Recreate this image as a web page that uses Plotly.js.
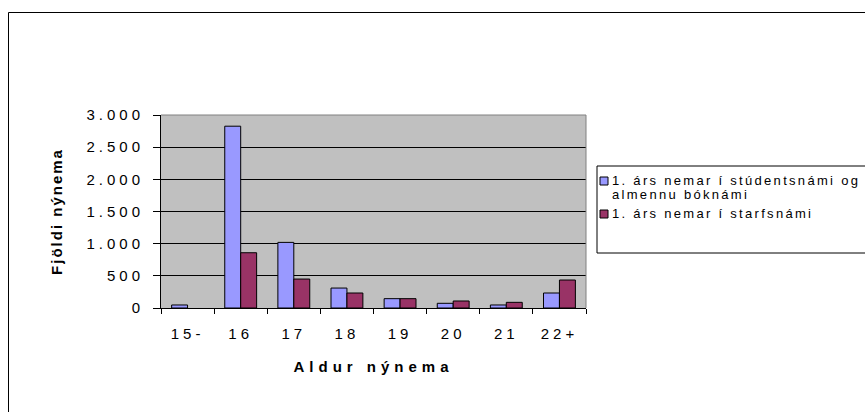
<!DOCTYPE html>
<html>
<head>
<meta charset="utf-8">
<script src="https://cdn.plot.ly/plotly-3.0.1.min.js"></script>
<style>
  html, body { margin: 0; padding: 0; background: #fff; }
  #chart { width: 865px; height: 412px; }
  .xtick text, .ytick text { letter-spacing: 4px; }
  .g-xtitle text { letter-spacing: 5px; }
  .g-ytitle text { letter-spacing: 2px; }
  .annotation-text { letter-spacing: 2.3px; }
</style>
</head>
<body>
<div id="chart"></div>
<script>
const categories = ["15-", "16", "17", "18", "19", "20", "21", "22+"];
const seriesNames = ["1. árs nemar í stúdentsnámi og almennu bóknámi", "1. árs nemar í starfsnámi"];
const legendLines = ["1. árs nemar í stúdentsnámi og", "almennu bóknámi", "1. árs nemar í starfsnámi"];
const studentValues = [47, 2826, 1020, 310, 145, 73, 47, 233];
const vocationalValues = [null, 859, 450, 233, 145, 109, 88, 435];
const yTickValues = [0, 500, 1000, 1500, 2000, 2500, 3000];
const xTitle = "Aldur nýnema";
const yTitle = "Fjöldi nýnema";

const FONT = "'Liberation Sans', Arial, sans-serif";

const traces = [
  {
    type: "bar", name: seriesNames[0], x: categories, y: studentValues,
    marker: { color: "#9999FF", line: { color: "#000000", width: 1 } },
    hoverinfo: "x+y"
  },
  {
    type: "bar", name: seriesNames[1], x: categories, y: vocationalValues,
    marker: { color: "#993366", line: { color: "#000000", width: 1 } },
    hoverinfo: "x+y"
  }
];

// plot area in pixels: x 161..586, y 115..308
const L = 161, R = 586, T = 115, B = 308;
const px = v => (v - L) / (R - L);
const py = v => (B - v) / (B - T);

const layout = {
  width: 865, height: 412,
  margin: { l: L, r: 865 - R, t: T, b: 412 - B, pad: 0 },
  paper_bgcolor: "#FFFFFF",
  plot_bgcolor: "#C0C0C0",
  separators: ",.",
  showlegend: false,
  barmode: "group",
  bargap: 0.4,
  bargroupgap: 0,
  font: { family: FONT, color: "#000000", size: 15 },
  xaxis: {
    type: "category",
    tickson: "boundaries",
    ticks: "outside", ticklen: 5, tickcolor: "#000000", tickwidth: 1,
    ticklabelstandoff: 12,
    showline: true, linecolor: "#000000", linewidth: 1,
    showgrid: false, zeroline: false,
    tickfont: { family: FONT, size: 15, color: "#000000" },
    title: { text: xTitle, font: { family: FONT, size: 15, color: "#000000", weight: "bold" }, standoff: 20 },
    automargin: false
  },
  yaxis: {
    range: [0, 3000],
    tickvals: yTickValues,
    tickformat: ",d",
    ticks: "outside", ticklen: 7, tickcolor: "#000000", tickwidth: 1,
    ticklabelstandoff: 6,
    showline: true, linecolor: "#000000", linewidth: 1,
    showgrid: true, gridcolor: "#000000", gridwidth: 1,
    zeroline: false,
    tickfont: { family: FONT, size: 15, color: "#000000" },
    title: { text: yTitle, font: { family: FONT, size: 15, color: "#000000", weight: "bold" }, standoff: 20 },
    automargin: false
  },
  shapes: [
    { type: "rect", xref: "paper", yref: "paper", x0: px(8.5), x1: px(1000), y0: py(600), y1: py(12.5),
      line: { color: "#000000", width: 1 }, fillcolor: "rgba(0,0,0,0)", layer: "above" },
    { type: "line", xref: "paper", yref: "paper", x0: 0, x1: 1, y0: 1, y1: 1,
      line: { color: "#808080", width: 1 }, layer: "above" },
    { type: "line", xref: "paper", yref: "paper", x0: 1, x1: 1, y0: 0, y1: 1,
      line: { color: "#808080", width: 1 }, layer: "above" },
    { type: "rect", xref: "paper", yref: "paper", x0: px(597), x1: px(1000), y0: py(253), y1: py(166),
      line: { color: "#000000", width: 1 }, fillcolor: "#FFFFFF", layer: "above" },
    { type: "rect", xref: "paper", yref: "paper", x0: px(600), x1: px(608), y0: py(185), y1: py(177),
      line: { color: "#000000", width: 1 }, fillcolor: "#9999FF", layer: "above" },
    { type: "rect", xref: "paper", yref: "paper", x0: px(600), x1: px(608), y0: py(218), y1: py(210),
      line: { color: "#000000", width: 1 }, fillcolor: "#993366", layer: "above" }
  ],
  annotations: [
    { xref: "paper", yref: "paper", x: px(610), y: py(180.5), xanchor: "left", yanchor: "middle",
      text: legendLines[0], showarrow: false, font: { family: FONT, size: 13, color: "#000000" } },
    { xref: "paper", yref: "paper", x: px(610), y: py(194), xanchor: "left", yanchor: "middle",
      text: legendLines[1], showarrow: false, font: { family: FONT, size: 13, color: "#000000" } },
    { xref: "paper", yref: "paper", x: px(610), y: py(213), xanchor: "left", yanchor: "middle",
      text: legendLines[2], showarrow: false, font: { family: FONT, size: 13, color: "#000000" } }
  ]
};

Plotly.newPlot("chart", traces, layout, { displayModeBar: false, staticPlot: true });
</script>
</body>
</html>
